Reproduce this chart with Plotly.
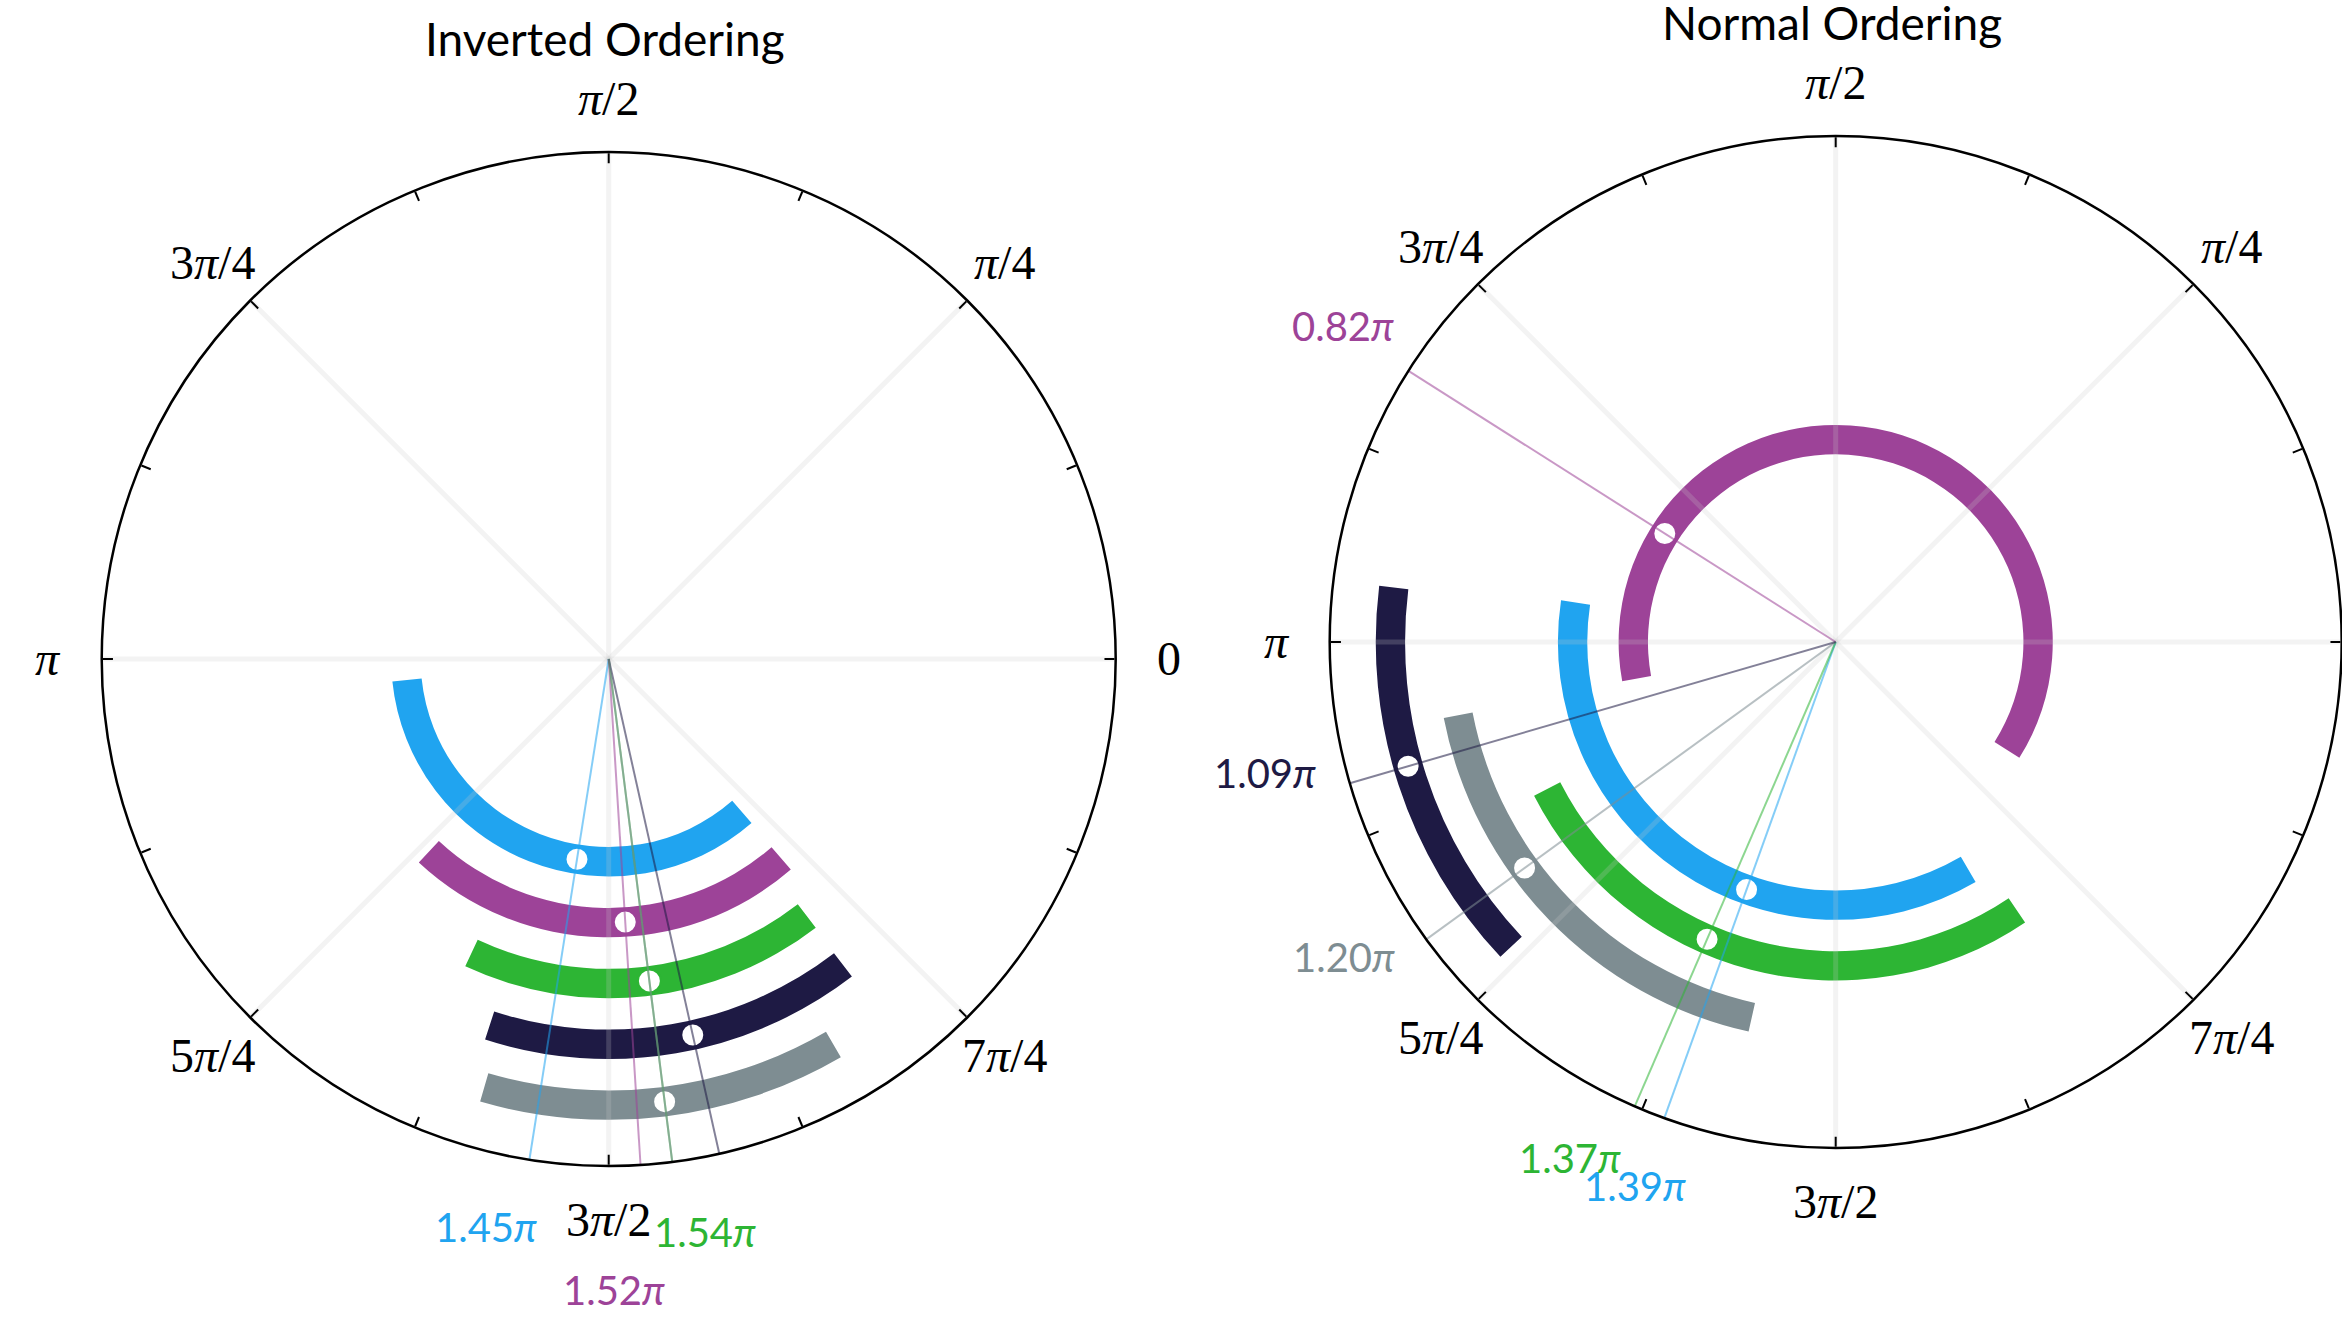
import math
import plotly.graph_objects as go

# ---- data (angles in units of pi) ----------------------------------------
COLORS = {
    "sky": "#20a4f0",
    "plum": "#9d4398",
    "green": "#2db534",
    "navy": "#1e1a44",
    "slate": "#7e8d92",
}

# Inverted ordering, innermost ring first
inv_series = ["sky", "plum", "green", "navy", "slate"]
inv_lo = [1.033, 1.261, 1.361, 1.400, 1.410]
inv_hi = [1.728, 1.727, 1.709, 1.708, 1.668]
inv_best = [1.45, 1.52, 1.54, 1.57, 1.54]

# Normal ordering, innermost ring first
norm_series = ["plum", "sky", "green", "slate", "navy"]
norm_lo = [-0.179, 0.952, 1.150, 1.061, 0.961]
norm_hi = [1.058, 1.668, 1.689, 1.430, 1.240]
norm_best = [0.82, 1.39, 1.37, 1.20, 1.09]

tick_pi = [0, 0.25, 0.5, 0.75, 1.0, 1.25, 1.5, 1.75]
tick_text = ["0", "<i>π</i>/4", "<i>π</i>/2", "3<i>π</i>/4", "<i>π</i>",
             "5<i>π</i>/4", "3<i>π</i>/2", "7<i>π</i>/4"]

titles = ["Inverted Ordering", "Normal Ordering"]

# ---- styling / placement --------------------------------------------------
W, H = 2342, 1317
RING0, RING_STEP, BAND = 0.40, 0.12, 0.058
SANS = "Lato, 'Open Sans', sans-serif"
SERIF = "'Liberation Serif', 'DejaVu Serif', serif"

DOMAINS = {
    "polar": ([0.04343, 0.47639], [0.11466, 0.88459]),
    "polar2": ([0.56776, 0.99987], [0.12832, 0.89674]),
}

# where each best-fit label sits: (angle offset in degrees, radius); None = not drawn
inv_label_spot = [(-3.2, 1.146), (-3.1, 1.245), (2.3, 1.146), None, None]
norm_label_spot = [(-0.3, 1.157), (-0.4, 1.146), (-3.8, 1.147), (-3.4, 1.154), (-3.3, 1.158)]


def rgba(hex_color, a):
    h = hex_color.lstrip("#")
    r, g, b = (int(h[i:i + 2], 16) for i in (0, 2, 4))
    return f"rgba({r},{g},{b},{a})"


def polar_to_paper(polar, r, theta_deg):
    """Map (r, theta) of a polar subplot with radial range [0, 1] to paper coords,
    so text can sit outside the rim."""
    (x0, x1), (y0, y1) = DOMAINS[polar]
    cx = (x0 + x1) / 2 * W
    cy = (y0 + y1) / 2 * H
    rad = min((x1 - x0) * W, (y1 - y0) * H) / 2
    t = math.radians(theta_deg)
    return (cx + rad * r * math.cos(t)) / W, (cy + rad * r * math.sin(t)) / H


fig = go.Figure()
annotations = []


def add_panel(polar, series, lo, hi, best, label_spot):
    # arcs as annular sectors
    for i, (name, a, b) in enumerate(zip(series, lo, hi)):
        ring = RING0 + RING_STEP * i
        fig.add_trace(go.Barpolar(
            r=[BAND], base=[ring - BAND / 2],
            theta=[(a + b) / 2 * 180], width=[(b - a) * 180],
            marker=dict(color=COLORS[name], line=dict(width=0)),
            subplot=polar, showlegend=False, hoverinfo="skip",
        ))
    # light spokes every pi/4, drawn over the arcs
    gr, gt = [], []
    for t in tick_pi:
        gr += [0, 1, None]
        gt += [t * 180, t * 180, None]
    fig.add_trace(go.Scatterpolar(
        r=gr, theta=gt, mode="lines", connectgaps=False,
        line=dict(color="rgba(200,200,200,0.22)", width=5),
        subplot=polar, showlegend=False, hoverinfo="skip",
    ))
    # best-fit markers
    for i, (name, v) in enumerate(zip(series, best)):
        ring = RING0 + RING_STEP * i
        fig.add_trace(go.Scatterpolar(
            r=[ring], theta=[v * 180], mode="markers",
            marker=dict(size=23, color="white",
                        line=dict(color=COLORS[name], width=2)),
            subplot=polar, showlegend=False, hoverinfo="skip",
        ))
    # best-fit rays from the centre to the rim
    for name, v in zip(series, best):
        fig.add_trace(go.Scatterpolar(
            r=[0, 1], theta=[v * 180, v * 180], mode="lines",
            line=dict(color=rgba(COLORS[name], 0.55), width=2),
            subplot=polar, showlegend=False, hoverinfo="skip",
        ))
    # value labels outside the rim
    for name, v, spot in zip(series, best, label_spot):
        if spot is None:
            continue
        dtheta, rad = spot
        x, y = polar_to_paper(polar, rad, v * 180 + dtheta)
        annotations.append(dict(
            text=f"{v:.2f}<i>π</i>", x=x, y=y, xref="paper", yref="paper",
            xanchor="center", yanchor="middle", showarrow=False,
            font=dict(family=SANS, size=40, color=COLORS[name]),
        ))
    # angular tick labels
    for t, txt in zip(tick_pi, tick_text):
        x, y = polar_to_paper(polar, 1.105, t * 180)
        annotations.append(dict(
            text=txt, x=x, y=y, xref="paper", yref="paper",
            xanchor="center", yanchor="middle", showarrow=False,
            font=dict(family=SERIF, size=48, color="black"),
        ))


add_panel("polar", inv_series, inv_lo, inv_hi, inv_best, inv_label_spot)
add_panel("polar2", norm_series, norm_lo, norm_hi, norm_best, norm_label_spot)


def polar_layout(polar):
    xd, yd = DOMAINS[polar]
    return dict(
        domain=dict(x=xd, y=yd),
        bgcolor="white",
        barmode="overlay",
        radialaxis=dict(visible=False, range=[0, 1], showgrid=False),
        angularaxis=dict(
            rotation=0, direction="counterclockwise",
            tickmode="array", tickvals=[k * 22.5 for k in range(16)],
            ticks="inside", ticklen=10, tickwidth=1.5, tickcolor="black",
            showticklabels=False, showgrid=False,
            showline=True, linecolor="black", linewidth=2.5,
        ),
    )


annotations += [
    dict(text=titles[0], x=0.2583, y=0.9706, xref="paper", yref="paper",
         xanchor="center", yanchor="middle", showarrow=False,
         font=dict(family=SANS, size=46, color="black")),
    dict(text=titles[1], x=0.7822, y=0.9830, xref="paper", yref="paper",
         xanchor="center", yanchor="middle", showarrow=False,
         font=dict(family=SANS, size=46, color="black")),
]

fig.update_layout(
    width=W, height=H,
    margin=dict(l=0, r=0, t=0, b=0),
    paper_bgcolor="white",
    polar=polar_layout("polar"),
    polar2=polar_layout("polar2"),
    annotations=annotations,
)

fig.write_html("out.html")
